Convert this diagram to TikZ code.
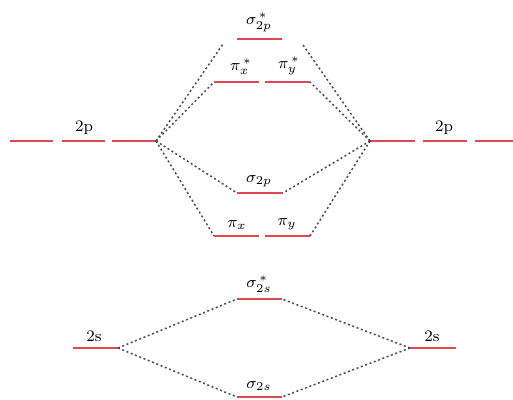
\documentclass[tikz,border=0pt]{standalone}
\usepackage{amsmath}
\usepackage{xcolor}
\usepackage{tikz}
\definecolor{levelred}{RGB}{222,72,84}
\newcommand{\molevel}[4]{\coordinate (#1-w) at (#2,#4); \coordinate (#1-e) at (#3,#4); \draw[lvl] (#1-w) -- (#1-e);}

\begin{document}
\begin{tikzpicture}[x=0.5pt, y=-0.5pt, font=\fontsize{8}{9}\selectfont,
  lvl/.style={draw=levelred, line width=0.7pt},
  mix/.style={draw=black!70, dash pattern=on 1pt off 1.3pt, line width=0.75pt},
  lab/.style={anchor=south, inner sep=1pt}]
\useasboundingbox (0,0) rectangle (513,400);
% atomic orbitals
\molevel{pLa}{10}{53}{141} \molevel{pLb}{62}{105}{141} \molevel{pLc}{112}{156}{141}
\molevel{pRa}{370}{415}{141} \molevel{pRb}{423}{467}{141} \molevel{pRc}{475}{513}{141}
\molevel{sL}{73}{118}{348} \molevel{sR}{410}{456}{348}
% molecular orbitals
\molevel{sgps}{237}{282}{39}
\molevel{pixs}{214}{259}{82} \molevel{piys}{265}{310}{82}
\molevel{sgp}{237}{283}{193}
\molevel{pix}{214}{259}{236} \molevel{piy}{265}{310}{236}
\molevel{sgss}{237}{282}{299}
\molevel{sgs}{237}{282}{397}
\coordinate (sgps-l) at (223,44);
\coordinate (sgps-r) at (303,45);
% labels
\node[lab] (t-pL) at (84,137) {2p};
\node[lab] (t-pR) at (444,137) {2p};
\node[lab] (t-sL) at (94,344) {2s};
\node[lab] (t-sR) at (432,344) {2s};
\node[lab] (t-sgps) at (259,34) {$\sigma_{2p}^{\,*}$};
\node[lab] (t-pixs) at (241,77) {$\pi_x^{\,*}$};
\node[lab] (t-piys) at (289,77) {$\pi_y^{\,*}$};
\node[lab] (t-sgp) at (259,189) {$\sigma_{2p}$};
\node[lab] (t-pix) at (237,232) {$\pi_x$};
\node[lab] (t-piy) at (287,232) {$\pi_y$};
\node[lab] (t-sgss) at (259,295) {$\sigma_{2s}^{\,*}$};
\node[lab] (t-sgs) at (259,393) {$\sigma_{2s}$};
% correlation lines
\draw[mix] (pLc-e) -- (sgps-l); \draw[mix] (pLc-e) -- (pixs-w);
\draw[mix] (pLc-e) -- (sgp-w); \draw[mix] (pLc-e) -- (pix-w);
\draw[mix] (pRa-w) -- (sgps-r); \draw[mix] (pRa-w) -- (piys-e);
\draw[mix] (pRa-w) -- (sgp-e); \draw[mix] (pRa-w) -- (piy-e);
\draw[mix] (sL-e) -- (sgss-w); \draw[mix] (sL-e) -- (sgs-w);
\draw[mix] (sR-w) -- (sgss-e); \draw[mix] (sR-w) -- (sgs-e);
\end{tikzpicture}
\end{document}
